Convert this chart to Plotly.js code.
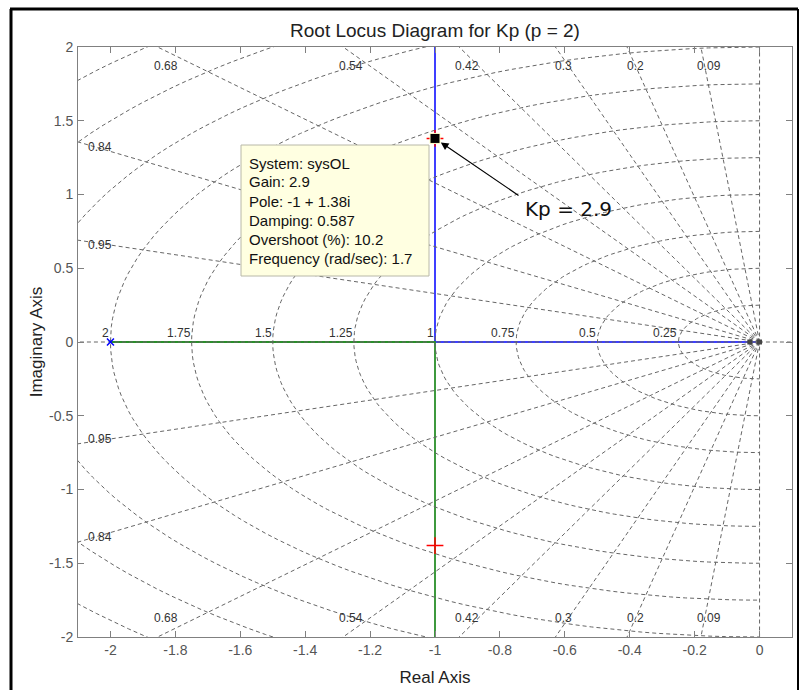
<!DOCTYPE html>
<html>
<head>
<meta charset="utf-8">
<script src="https://cdn.plot.ly/plotly-3.0.1.min.js"></script>
<style>html,body{margin:0;padding:0;background:#fff;}#chart{width:803px;height:690px;}</style>
</head>
<body>
<div id="chart"></div>
<script>
// ---- data ----
const zetaVals   = [0.09, 0.2, 0.3, 0.42, 0.54, 0.68, 0.84, 0.95];
const zetaLabels = ['0.09', '0.2', '0.3', '0.42', '0.54', '0.68', '0.84', '0.95'];
const wnVals     = [0.25, 0.5, 0.75, 1, 1.25, 1.5, 1.75, 2, 2.25, 2.5, 2.75];
const wnLabels   = ['0.25', '0.5', '0.75', '1', '1.25', '1.5', '1.75', '2'];
const blueBranchX  = [0, -1, -1];
const blueBranchY  = [0, 0, 2.6];
const greenBranchX = [-2, -1, -1];
const greenBranchY = [0, 0, -2.6];
const olPoleX = [-2];
const olPoleY = [0];
const originMarkX = [-0.03, 0];
const originMarkY = [0, 0];
const clPoleX = [-1, -1];
const clPoleY = [1.38, -1.38];
const cursorX = [-1];
const cursorY = [1.38];
const cursorGain = '2.9';
const datatipLines = ['System: sysOL', 'Gain: 2.9', 'Pole: -1 + 1.38i', 'Damping: 0.587', 'Overshoot (%): 10.2', 'Frequency (rad/sec): 1.7'];
const xTickVals = [-2, -1.8, -1.6, -1.4, -1.2, -1, -0.8, -0.6, -0.4, -0.2, 0];
const xTickText = ['-2', '-1.8', '-1.6', '-1.4', '-1.2', '-1', '-0.8', '-0.6', '-0.4', '-0.2', '0'];
const yTickVals = [-2, -1.5, -1, -0.5, 0, 0.5, 1, 1.5, 2];
const yTickText = ['-2', '-1.5', '-1', '-0.5', '0', '0.5', '1', '1.5', '2'];
const xRange = [-2.1, 0.1];
const yRange = [-2, 2];

// ---- layout helpers (pixel -> paper) ----
const W = 803, H = 690, ML = 78, MR = 11, MT = 47, MB = 53;
const PW = W - ML - MR, PH = H - MT - MB;
const PX = p => (p - ML) / PW;
const PY = p => (H - MB - p) / PH;

// ---- sgrid lines ----
const gx = [], gy = [];
zetaVals.forEach(z => {
  const s = Math.sqrt(1 - z * z), L = 5;
  gx.push(0, -L * z, null, 0, -L * z, null);
  gy.push(0, L * s, null, 0, -L * s, null);
});
wnVals.forEach(w => {
  for (let a = 90; a <= 270; a += 1.5) {
    const t = a * Math.PI / 180;
    gx.push(w * Math.cos(t)); gy.push(w * Math.sin(t));
  }
  gx.push(null); gy.push(null);
});
// zeta = 1 (real axis) and zeta = 0 (imag axis)
gx.push(-3, 1, null, 0, 0, null);
gy.push(0, 0, null, -3, 3, null);

const gridStyle = {color: '#666666', width: 1, dash: '4px,3px'};

const traces = [
  {x: blueBranchX, y: blueBranchY, mode: 'lines', line: {color: '#0000ff', width: 1.5}, hoverinfo: 'skip', showlegend: false},
  {x: greenBranchX, y: greenBranchY, mode: 'lines', line: {color: '#2a8f2a', width: 1.8}, hoverinfo: 'skip', showlegend: false},
  {x: gx, y: gy, mode: 'lines', line: gridStyle, connectgaps: false, hoverinfo: 'skip', showlegend: false},
  {x: olPoleX, y: olPoleY, mode: 'markers', marker: {symbol: 'x-thin', size: 7, line: {color: '#0000ff', width: 1.5}}, hoverinfo: 'skip', showlegend: false},
  {x: originMarkX, y: originMarkY, mode: 'markers', marker: {symbol: 'square', size: 5, color: '#444'}, hoverinfo: 'skip', showlegend: false},
  {x: clPoleX, y: clPoleY, mode: 'markers', marker: {symbol: 'cross-thin', size: 12, line: {color: '#ff0000', width: 1.5}}, hoverinfo: 'skip', showlegend: false},
  {x: cursorX, y: cursorY, mode: 'markers', marker: {symbol: 'square', size: 10, color: '#000', line: {color: '#ffffc8', width: 1}}, hoverinfo: 'skip', showlegend: false}
];

// ---- annotations ----
const ann = [];
const labelFont = {family: 'Liberation Sans, Arial, sans-serif', size: 12, color: '#333'};
zetaVals.forEach((z, i) => {
  const tn = Math.sqrt(1 - z * z) / z;
  if (tn * (-xRange[0]) >= yRange[1]) {
    const xe = -yRange[1] / tn;
    ann.push({x: xe, y: yRange[1], text: zetaLabels[i], showarrow: false, xanchor: 'center', yanchor: 'middle', xshift: 8, yshift: -19, font: labelFont});
    ann.push({x: xe, y: yRange[0], text: zetaLabels[i], showarrow: false, xanchor: 'center', yanchor: 'middle', xshift: 8, yshift: 19, font: labelFont});
  } else {
    const ye = -xRange[0] * tn;
    ann.push({x: xRange[0], y: ye, text: zetaLabels[i], showarrow: false, xanchor: 'center', yanchor: 'middle', xshift: 22, yshift: -5, font: labelFont});
    ann.push({x: xRange[0], y: -ye, text: zetaLabels[i], showarrow: false, xanchor: 'center', yanchor: 'middle', xshift: 22, yshift: 5, font: labelFont});
  }
});
wnLabels.forEach((t, i) => {
  ann.push({x: -wnVals[i], y: 0, text: t, showarrow: false, xanchor: 'right', yanchor: 'bottom', xshift: 1, yshift: 0, font: labelFont});
});
// datatip text
datatipLines.forEach((t, i) => {
  ann.push({xref: 'paper', yref: 'paper', x: PX(247), y: PY(163 + i * 19), text: t, showarrow: false, xanchor: 'left', yanchor: 'middle', font: {family: 'Liberation Sans, Arial, sans-serif', size: 15, color: '#111'}});
});
// arrow to the cursor
ann.push({x: cursorX[0], y: cursorY[0], text: '', showarrow: true, ax: 85, ay: 58, arrowhead: 2, arrowsize: 1.3, arrowwidth: 1.2, arrowcolor: '#000', standoff: 7});
ann.push({xref: 'paper', yref: 'paper', x: PX(523), y: PY(209), text: 'Kp = ' + cursorGain, showarrow: false, xanchor: 'left', yanchor: 'middle', font: {family: 'DejaVu Sans, sans-serif', size: 20, color: '#111'}});

const shapes = [
  {type: 'rect', xref: 'paper', yref: 'paper', x0: PX(241), x1: PX(429), y0: PY(276), y1: PY(145), fillcolor: '#ffffe1', line: {color: '#b8b8a8', width: 1}, layer: 'above'},
  {type: 'line', xref: 'paper', yref: 'paper', x0: PX(11), x1: PX(11), y0: PY(700), y1: PY(9), line: {color: '#000', width: 3}},
  {type: 'line', xref: 'paper', yref: 'paper', x0: PX(10), x1: PX(798), y0: PY(9), y1: PY(9), line: {color: '#000', width: 3}},
  {type: 'line', xref: 'paper', yref: 'paper', x0: PX(798), x1: PX(798), y0: PY(700), y1: PY(9), line: {color: '#000', width: 2}}
];

const axisCommon = {
  showgrid: false, zeroline: false, showline: true, mirror: 'ticks', linecolor: '#808080', linewidth: 1,
  ticks: 'inside', ticklen: 6, tickcolor: '#808080', tickwidth: 1,
  tickfont: {family: 'Liberation Sans, Arial, sans-serif', size: 14, color: '#555'}
};

const layout = {
  width: W, height: H,
  margin: {l: ML, r: MR, t: MT, b: MB, pad: 0},
  paper_bgcolor: '#fff', plot_bgcolor: '#fff',
  showlegend: false,
  title: {text: 'Root Locus Diagram for Kp (p = 2)', x: 0.5, xref: 'paper', xanchor: 'center', y: 1 - 30 / H, yanchor: 'middle',
          font: {family: 'Liberation Sans, Arial, sans-serif', size: 19, color: '#222'}},
  xaxis: Object.assign({}, axisCommon, {range: xRange, tickvals: xTickVals, ticktext: xTickText, ticklabelstandoff: 0,
          title: {text: 'Real Axis', standoff: 14, font: {family: 'Liberation Sans, Arial, sans-serif', size: 17, color: '#222'}}}),
  yaxis: Object.assign({}, axisCommon, {range: yRange, tickvals: yTickVals, ticktext: yTickText, ticklabelstandoff: 1,
          title: {text: 'Imaginary Axis', standoff: 2, font: {family: 'Liberation Sans, Arial, sans-serif', size: 17, color: '#222'}}}),
  annotations: ann,
  shapes: shapes
};

Plotly.newPlot('chart', traces, layout, {staticPlot: true, displayModeBar: false});
</script>
</body>
</html>
